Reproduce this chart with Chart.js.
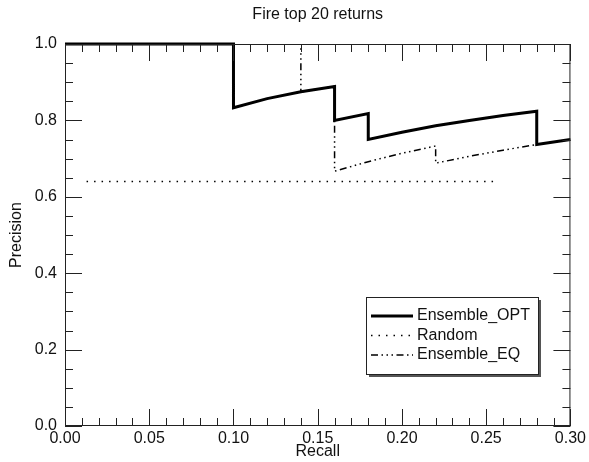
<!DOCTYPE html>
<html>
<head>
<meta charset="utf-8">
<script src="https://cdn.jsdelivr.net/npm/chart.js@4.4.1/dist/chart.umd.min.js"></script>
<style>
  html, body { margin: 0; padding: 0; background: #fff; }
  #wrap { width: 589px; height: 462px; }
</style>
</head>
<body>
<div id="wrap"><canvas id="pr-chart" width="589" height="462"></canvas></div>
<script>
// values
const optRecall = [0, 0.10, 0.10, 0.12, 0.14, 0.16, 0.16, 0.18, 0.18, 0.20, 0.22, 0.24, 0.26, 0.28, 0.28, 0.28, 0.30];
const optPrecision = [1.0, 1.0, 0.833, 0.857, 0.875, 0.889, 0.800, 0.818, 0.750, 0.769, 0.786, 0.800, 0.813, 0.824, 0.778, 0.737, 0.750];
const eqRecall = [0, 0.14, 0.14, 0.16, 0.16, 0.18, 0.20, 0.22, 0.22, 0.24, 0.26, 0.28, 0.30];
const eqPrecision = [1.0, 1.0, 0.875, 0.889, 0.667, 0.692, 0.714, 0.733, 0.688, 0.706, 0.722, 0.737, 0.750];
const randRecall = [0.0128, 0.256];
const randPrecision = [0.64, 0.64];
const seriesNames = ['Ensemble_OPT', 'Random', 'Ensemble_EQ'];

const FONT = '"Liberation Sans", Arial, sans-serif';
const eqDash = [7, 3.5, 1.5, 3.5, 1.5, 3.5, 1.5, 3.5];
const randDash = [1.5, 6];

const toPts = (xs, ys) => xs.map((x, i) => ({ x: x, y: ys[i] }));

// frame with inward ticks, title, axis titles and the boxed legend
const framePlugin = {
  id: 'frame',
  afterDraw(chart) {
    const ctx = chart.ctx;
    const a = chart.chartArea;
    const xs = chart.scales.x, ys = chart.scales.y;
    ctx.save();
    ctx.strokeStyle = '#222';
    ctx.lineWidth = 1;
    ctx.strokeRect(a.left + 0.5, a.top + 0.5, a.right - a.left - 1, a.bottom - a.top - 1);

    ctx.beginPath();
    for (let i = 0; i <= 30; i++) {
      const px = Math.round(xs.getPixelForValue(i / 100)) + 0.5;
      const len = i % 5 === 0 ? 17 : 8;
      ctx.moveTo(px, a.bottom); ctx.lineTo(px, a.bottom - len);
      ctx.moveTo(px, a.top); ctx.lineTo(px, a.top + len);
    }
    for (let i = 0; i <= 20; i++) {
      const py = Math.round(ys.getPixelForValue(i / 20)) + 0.5;
      const len = i % 4 === 0 ? 17 : 8;
      ctx.moveTo(a.left, py); ctx.lineTo(a.left + len, py);
      ctx.moveTo(a.right, py); ctx.lineTo(a.right - len, py);
    }
    ctx.stroke();

    ctx.fillStyle = '#111';
    ctx.font = '16px ' + FONT;
    ctx.textAlign = 'center';
    ctx.textBaseline = 'middle';
    ctx.fillText('Fire top 20 returns', (a.left + a.right) / 2, 15);
    ctx.fillText('Recall', (a.left + a.right) / 2, 452);
    ctx.translate(17, (a.top + a.bottom) / 2);
    ctx.rotate(-Math.PI / 2);
    ctx.fillText('Precision', 0, 0);
    ctx.restore();

    // legend
    const box = { x: 366, y: 297, w: 172, h: 77 };
    ctx.save();
    ctx.fillStyle = '#555';
    ctx.fillRect(box.x + 3, box.y + 3, box.w, box.h);
    ctx.fillStyle = '#fff';
    ctx.fillRect(box.x, box.y, box.w, box.h);
    ctx.strokeStyle = '#222';
    ctx.lineWidth = 1;
    ctx.strokeRect(box.x + 0.5, box.y + 0.5, box.w, box.h);
    const styles = [
      { w: 3, dash: [] },
      { w: 1.5, dash: randDash },
      { w: 1.5, dash: eqDash }
    ];
    ctx.font = '16px ' + FONT;
    ctx.textAlign = 'left';
    ctx.textBaseline = 'middle';
    seriesNames.forEach((name, i) => {
      const y = box.y + 19 + i * 19.5;
      ctx.strokeStyle = '#000';
      ctx.lineWidth = styles[i].w;
      ctx.setLineDash(styles[i].dash);
      ctx.beginPath();
      ctx.moveTo(box.x + 5, y); ctx.lineTo(box.x + 47, y);
      ctx.stroke();
      ctx.setLineDash([]);
      ctx.fillStyle = '#111';
      ctx.fillText(name, box.x + 51, y);
    });
    ctx.restore();
  }
};

new Chart(document.getElementById('pr-chart'), {
  type: 'scatter',
  data: {
    datasets: [
      { label: seriesNames[0], data: toPts(optRecall, optPrecision), showLine: true, clip: false, borderColor: '#000', borderWidth: 3, pointRadius: 0, borderJoinStyle: 'miter' },
      { label: seriesNames[1], data: toPts(randRecall, randPrecision), showLine: true, borderColor: '#000', borderWidth: 1.5, borderDash: randDash, pointRadius: 0 },
      { label: seriesNames[2], data: toPts(eqRecall, eqPrecision), showLine: true, borderColor: '#000', borderWidth: 1.5, borderDash: eqDash, pointRadius: 0 }
    ]
  },
  options: {
    responsive: false,
    animation: false,
    layout: { padding: { top: 44, right: 18, left: 0, bottom: 0 } },
    plugins: { legend: { display: false }, title: { display: false }, tooltip: { enabled: false } },
    scales: {
      x: {
        type: 'linear', min: 0, max: 0.3,
        afterFit(s) { s.height = 36; },
        grid: { display: false, drawTicks: false },
        border: { display: false },
        ticks: { stepSize: 0.05, padding: 3, color: '#111', font: { family: FONT, size: 16 }, maxRotation: 0,
          callback: v => v.toFixed(2) }
      },
      y: {
        type: 'linear', min: 0, max: 1,
        afterFit(s) { s.width = 65; },
        grid: { display: false, drawTicks: false },
        border: { display: false },
        ticks: { stepSize: 0.2, padding: 8, color: '#111', font: { family: FONT, size: 16 },
          callback: v => v.toFixed(1) }
      }
    }
  },
  plugins: [framePlugin]
});
</script>
</body>
</html>
